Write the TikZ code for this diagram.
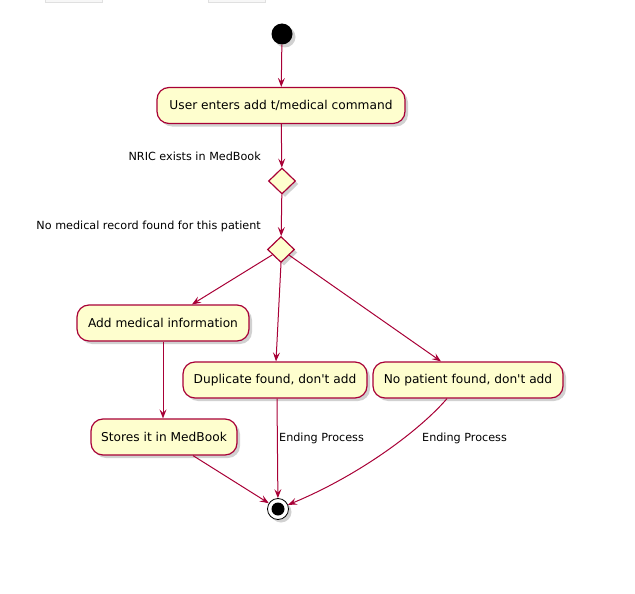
\documentclass[tikz,border=0pt]{standalone}
\usepackage{fontspec}
\setmainfont{DejaVu Sans}
\usetikzlibrary{arrows.meta,shapes.geometric,shadows}
\definecolor{umlred}{HTML}{A80036}
\definecolor{umlfill}{HTML}{FEFECE}
\tikzset{
  shad/.style={drop shadow={shadow xshift=3pt,shadow yshift=-3pt,opacity=0.3,fill=black!60}},
  actbox/.style={draw=umlred,fill=umlfill,line width=1.2pt,rounded corners=12pt,
    minimum height=36pt,inner xsep=8pt,font=\fontsize{12.2}{14}\selectfont,shad},
  decis/.style={diamond,draw=umlred,fill=umlfill,line width=1.2pt,minimum width=27pt,
    minimum height=26pt,inner sep=0pt,shad},
  lbl/.style={font=\fontsize{11.2}{13}\selectfont,inner sep=0pt},
  flow/.style={draw=umlred,line width=1pt,-{Stealth[length=9pt,width=7pt,inset=3.5pt]}},
}
\begin{document}
\begin{tikzpicture}[x=1pt,y=-1pt]
\useasboundingbox (0,0) rectangle (635,594);
% faint remnants at the top edge
\draw[black!12,fill=black!3] (45,-3) rectangle (102,2);
\draw[black!12,fill=black!3] (208,-3) rectangle (265,2);

\node[circle,fill=black,minimum size=21pt,inner sep=0pt,shad] (start) at (282,34) {};
\node[actbox,minimum width=248pt] (b1) at (281,105.5) {User enters add t/medical command};
\node[decis] (d1) at (282,181) {};
\node[decis] (d2) at (281,249.5) {};
\node[actbox,minimum width=172pt] (add) at (163,323) {Add medical information};
\node[actbox,minimum width=184pt] (dup) at (275,380) {Duplicate found, don\textquotesingle t add};
\node[actbox,minimum width=190pt] (nop) at (468,380) {No patient found, don\textquotesingle t add};
\node[actbox,minimum width=146pt] (sto) at (164,437) {Stores it in MedBook};
\node[circle,draw=black,line width=0.8pt,fill=white,minimum size=21pt,inner sep=0pt,shad] (end) at (278,509) {};
\node[circle,fill=black,minimum size=13pt,inner sep=0pt] (endin) at (end) {};

\node[lbl,anchor=east] (l1) at (261,156) {NRIC exists in MedBook};
\node[lbl,anchor=east] (l2) at (261,226.5) {No medical record found for this patient};
\node[lbl,anchor=west] (l3) at (279,438.5) {Ending Process};
\node[lbl,anchor=west] (l4) at (422,438.5) {Ending Process};

\draw[flow] (start) -- (b1);
\draw[flow] (b1) -- (d1);
\draw[flow] (d1) -- (d2);
\draw[flow] (d2) -- (add.north -| 192,0);
\draw[flow] (d2.south) -- (dup.north -| 276,0);
\draw[flow] (d2) -- (nop.north -| 441,0);
\draw[flow] (add.south) -- (sto.north -| add.south);
\draw[flow] (sto.south -| 193,0) -- (end);
\draw[flow] (dup.south -| 277,0) -- (end);
\draw[flow] (nop.south -| 447,0) .. controls (420,430) and (360,475) .. (end);
\end{tikzpicture}
\end{document}
